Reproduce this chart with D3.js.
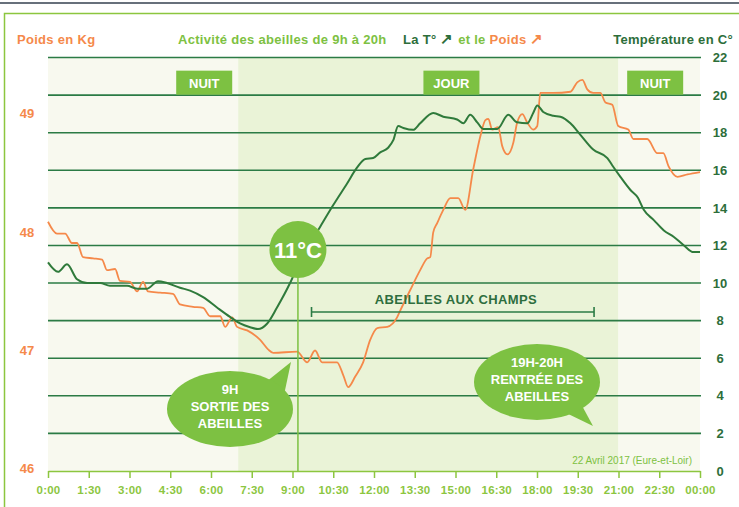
<!DOCTYPE html>
<html>
<head>
<meta charset="utf-8">
<script src="https://cdn.jsdelivr.net/npm/d3@7"></script>
<style>
  body { margin: 0; background: #fff; }
  svg text { font-family: "Liberation Sans", Arial, sans-serif; }
</style>
</head>
<body>
<svg id="chart" width="739" height="507"></svg>
<script>
// hours of the day (0 = midnight)
const tempHours = [0, 0.37, 0.7, 1.07, 1.44, 1.92, 2.28, 2.91, 3.28, 3.65, 4.05, 4.38, 4.86, 5.23, 5.71, 6.22, 6.7, 7.07, 7.44, 7.73, 8.07, 8.43, 8.91, 9.28, 10.02, 10.5, 11.01, 11.38, 11.68, 11.97, 12.23, 12.52, 12.71, 12.89, 13.08, 13.44, 13.7, 14.18, 14.55, 15.06, 15.29, 15.54, 15.8, 16.02, 16.54, 16.94, 17.27, 17.64, 17.86, 18.01, 18.23, 18.6, 18.86, 19.23, 19.59, 20.07, 20.59, 20.8, 21.07, 21.44, 21.71, 21.93, 22.3, 22.67, 23.04, 23.41, 23.76, 24];
const tempValues = [11.1, 10.6, 11.0, 10.2, 10.0, 10.0, 9.85, 9.85, 9.7, 9.7, 10.1, 10.0, 9.75, 9.6, 9.25, 8.7, 8.2, 7.85, 7.65, 7.55, 7.85, 8.7, 10.0, 11.2, 13.0, 14.15, 15.3, 16.15, 16.6, 16.65, 16.95, 17.2, 17.6, 18.35, 18.25, 18.15, 18.5, 19.05, 18.85, 18.7, 18.5, 18.95, 18.55, 18.2, 18.2, 18.95, 18.55, 18.5, 19.05, 19.45, 19.1, 18.9, 18.85, 18.5, 17.9, 17.1, 16.65, 16.2, 15.65, 14.95, 14.55, 13.9, 13.35, 12.8, 12.45, 12.0, 11.65, 11.65];

const weightHours = [0, 0.33, 0.63, 0.88, 1.07, 1.29, 1.66, 1.99, 2.17, 2.47, 2.65, 3.02, 3.28, 3.5, 3.68, 4.13, 4.6, 4.86, 5.34, 5.71, 5.97, 6.34, 6.52, 6.78, 6.96, 7.33, 7.81, 8.1, 8.29, 9.17, 9.54, 9.83, 10.09, 10.64, 10.87, 11.05, 11.31, 11.6, 11.86, 12.12, 12.49, 12.85, 12.97, 13.33, 13.7, 13.96, 14.07, 14.18, 14.33, 14.55, 14.81, 15.1, 15.36, 15.65, 15.91, 16.1, 16.21, 16.35, 16.57, 16.72, 16.91, 17.13, 17.27, 17.46, 17.64, 17.86, 18.01, 18.12, 18.6, 19.23, 19.48, 19.67, 19.85, 20.07, 20.33, 20.52, 20.77, 20.99, 21.36, 21.55, 22.06, 22.43, 22.65, 22.84, 23.17, 23.54, 24];
const weightValues = [48.11, 48.01, 48.01, 47.93, 47.93, 47.81, 47.8, 47.79, 47.7, 47.71, 47.61, 47.6, 47.52, 47.6, 47.52, 47.51, 47.5, 47.41, 47.39, 47.38, 47.31, 47.31, 47.22, 47.3, 47.22, 47.19, 47.11, 47.03, 47.0, 47.01, 46.92, 47.02, 46.92, 46.92, 46.81, 46.71, 46.8, 46.92, 47.11, 47.21, 47.22, 47.3, 47.36, 47.53, 47.7, 47.8, 47.81, 48.02, 48.1, 48.21, 48.31, 48.31, 48.21, 48.55, 48.83, 48.97, 48.98, 48.89, 48.91, 48.75, 48.68, 48.78, 48.95, 49.02, 48.95, 48.89, 48.92, 49.2, 49.2, 49.21, 49.29, 49.31, 49.23, 49.2, 49.2, 49.12, 49.1, 48.92, 48.89, 48.81, 48.81, 48.69, 48.69, 48.58, 48.49, 48.51, 48.53];

const timeTicks = [0, 1.5, 3, 4.5, 6, 7.5, 9, 10.5, 12, 13.5, 15, 16.5, 18, 19.5, 21, 22.5, 24];
const timeLabels = ["0:00", "1:30", "3:00", "4:30", "6:00", "7:30", "9:00", "10:30", "12:00", "13:30", "15:00", "16:30", "18:00", "19:30", "21:00", "22:30", "00:00"];
const tempTicks = [0, 2, 4, 6, 8, 10, 12, 14, 16, 18, 20, 22];
const weightTicks = [46, 47, 48, 49];

const periods = [
    { label: "NUIT", start: 0, end: 7, fill: "#f8f9ef", boxX: 5.75 },
    { label: "JOUR", start: 7, end: 21, fill: "#eaf3d7", boxX: 14.85 },
    { label: "NUIT", start: 21, end: 24, fill: "#f8f9ef", boxX: 22.35 }
];

const exitHour = 9.2;          // 9H sortie des abeilles
const fieldStart = 9.7, fieldEnd = 20.1;
const exitTemp = 11;

const svg = d3.select("#chart");
const m = { left: 48, right: 700, top: 57.5, bottom: 471 };

const x = d3.scaleLinear().domain([0, 24]).range([m.left, m.right]);
const yT = d3.scaleLinear().domain([0, 22]).range([m.bottom, m.top]);
const yW = d3.scaleLinear().domain([46, 49.5]).range([m.bottom, m.top]);

const lightGreen = "#7dc142",
      darkGreen = "#2d6e3a",
      gridGreen = "#2b7b45",
      orange = "#f5894a";

// page decoration
svg.append("line")
    .attr("x1", 0).attr("x2", 739).attr("y1", 3).attr("y2", 3)
    .attr("stroke", "#34404f").attr("stroke-width", 1.5);
svg.append("rect")
    .attr("x", 4.5).attr("y", 13.5).attr("width", 780).attr("height", 540)
    .attr("fill", "none").attr("stroke", "#8cc63f").attr("stroke-width", 1.5);

// day / night backgrounds
svg.selectAll(".period")
    .data(periods)
    .enter()
    .append("rect")
    .attr("class", "period")
    .attr("x", d => x(d.start))
    .attr("width", d => x(d.end) - x(d.start))
    .attr("y", m.top)
    .attr("height", m.bottom - m.top)
    .attr("fill", d => d.fill);

// Gridlines
svg.append("g")
    .selectAll("line")
    .data(tempTicks.filter(d => d > 0))
    .enter()
    .append("line")
    .attr("x1", m.left).attr("x2", m.right + 1)
    .attr("y1", d => yT(d)).attr("y2", d => yT(d))
    .attr("stroke", gridGreen)
    .attr("stroke-width", 1.6);

// period boxes
const boxes = svg.selectAll(".pbox")
    .data(periods)
    .enter()
    .append("g")
    .attr("class", "pbox")
    .attr("transform", d => `translate(${x(d.boxX)},${yT(21.3)})`);
boxes.append("rect")
    .attr("x", -28).attr("y", 0).attr("width", 56).attr("height", 24)
    .attr("fill", lightGreen);
boxes.append("text")
    .attr("x", 0).attr("y", 17)
    .attr("text-anchor", "middle")
    .attr("font-size", "13px")
    .attr("font-weight", "bold")
    .attr("fill", "#fff")
    .text(d => d.label);

// X Axis
const xAxis = svg.append("g")
    .attr("transform", `translate(0,${m.bottom})`)
    .call(d3.axisBottom(x)
        .tickValues(timeTicks)
        .tickFormat((d, i) => timeLabels[i])
        .tickSize(7)
        .tickSizeOuter(0)
        .tickPadding(8));
xAxis.select(".domain").attr("stroke", "#8cc63f").attr("stroke-width", 1.5);
xAxis.selectAll(".tick line").attr("stroke", "#8cc63f").attr("stroke-width", 1.5);
xAxis.selectAll("text")
    .attr("fill", "#8cc63f")
    .style("font-size", "11.5px")
    .style("font-weight", "bold")
    .style("letter-spacing", "0.2px");

// right axis (temperature)
const rAxis = svg.append("g")
    .attr("transform", `translate(${m.right},0)`)
    .call(d3.axisRight(yT).tickValues(tempTicks).tickSize(0).tickPadding(20));
rAxis.select(".domain").remove();
rAxis.selectAll("text")
    .attr("text-anchor", "middle")
    .attr("fill", darkGreen)
    .style("font-size", "13px")
    .style("font-weight", "bold");

// left axis (weight)
const lAxis = svg.append("g")
    .attr("transform", `translate(${m.left},0)`)
    .call(d3.axisLeft(yW).tickValues(weightTicks).tickFormat(d3.format("d")).tickSize(0).tickPadding(21));
lAxis.select(".domain").remove();
lAxis.selectAll("text")
    .attr("text-anchor", "middle")
    .attr("dy", "0.1em")
    .attr("fill", orange)
    .style("font-size", "13px")
    .style("font-weight", "bold");

// header
const header = svg.append("g")
    .attr("font-weight", "bold")
    .attr("font-size", "13px")
    .attr("letter-spacing", "0.3px");
header.append("text").attr("x", 17).attr("y", 44).attr("fill", orange).text("Poids en Kg");
header.append("text").attr("x", 178).attr("y", 44).attr("fill", lightGreen).text("Activité des abeilles de 9h à 20h");
const mid = header.append("text").attr("x", 403).attr("y", 44);
mid.append("tspan").attr("fill", darkGreen).text("La T° ");
mid.append("tspan").attr("fill", darkGreen).attr("font-size", "15px").text("↗ ");
mid.append("tspan").attr("fill", lightGreen).text("et le ");
mid.append("tspan").attr("fill", orange).text("Poids ");
mid.append("tspan").attr("fill", orange).attr("font-size", "15px").text("↗");
header.append("text").attr("x", 733).attr("y", 44).attr("text-anchor", "end").attr("fill", darkGreen).text("Température en C°");

// Lines
const tempData = tempHours.map((h, i) => ({ h: h, v: tempValues[i] }));
const weightData = weightHours.map((h, i) => ({ h: h, v: weightValues[i] }));

svg.append("path")
    .datum(weightData)
    .attr("fill", "none")
    .attr("stroke", orange)
    .attr("stroke-width", 1.8)
    .attr("d", d3.line().x(d => x(d.h)).y(d => yW(d.v)).curve(d3.curveMonotoneX));

svg.append("path")
    .datum(tempData)
    .attr("fill", "none")
    .attr("stroke", "#2f7a3b")
    .attr("stroke-width", 2)
    .attr("d", d3.line().x(d => x(d.h)).y(d => yT(d.v)).curve(d3.curveMonotoneX));

// exit marker: vertical line + 11°C bubble
svg.append("line")
    .attr("x1", x(exitHour)).attr("x2", x(exitHour))
    .attr("y1", 270).attr("y2", m.bottom)
    .attr("stroke", lightGreen).attr("stroke-width", 1.5);
svg.append("circle")
    .attr("cx", x(exitHour)).attr("cy", 249.5).attr("r", 28.5)
    .attr("fill", lightGreen);
svg.append("text")
    .attr("x", x(exitHour)).attr("y", 257.5)
    .attr("text-anchor", "middle")
    .attr("font-size", "22px")
    .attr("font-weight", "bold")
    .attr("fill", "#fff")
    .text(exitTemp + "°C");

// Abeilles aux champs bracket
const by = 312;
const bracket = svg.append("g").attr("stroke", gridGreen).attr("stroke-width", 1.6);
bracket.append("line").attr("x1", x(fieldStart)).attr("x2", x(fieldEnd)).attr("y1", by).attr("y2", by);
bracket.append("line").attr("x1", x(fieldStart)).attr("x2", x(fieldStart)).attr("y1", by - 5).attr("y2", by + 5);
bracket.append("line").attr("x1", x(fieldEnd)).attr("x2", x(fieldEnd)).attr("y1", by - 5).attr("y2", by + 5);
svg.append("text")
    .attr("x", 456).attr("y", 304)
    .attr("text-anchor", "middle")
    .attr("font-size", "13px")
    .attr("font-weight", "bold")
    .attr("letter-spacing", "0.4px")
    .attr("fill", "#2e6e3e")
    .text("ABEILLES AUX CHAMPS");

// Callout bubbles
const callouts = [
    { cx: 230, cy: 409, tail: [[266, 382], [291, 362], [284, 395]], lines: ["9H", "SORTIE DES", "ABEILLES"] },
    { cx: 537, cy: 382, tail: [[560, 410], [593, 426], [580, 402]], lines: ["19H-20H", "RENTRÉE DES", "ABEILLES"] }
];
const co = svg.selectAll(".callout")
    .data(callouts)
    .enter()
    .append("g")
    .attr("class", "callout");
co.append("polygon")
    .attr("points", d => d.tail.map(p => p.join(",")).join(" "))
    .attr("fill", lightGreen);
co.append("ellipse")
    .attr("cx", d => d.cx).attr("cy", d => d.cy)
    .attr("rx", 63).attr("ry", 38)
    .attr("fill", lightGreen);
co.each(function(d) {
    const t = d3.select(this).append("text")
        .attr("text-anchor", "middle")
        .attr("font-size", "13px")
        .attr("font-weight", "bold")
        .attr("fill", "#fff");
    d.lines.forEach((l, i) => {
        t.append("tspan")
            .attr("x", d.cx)
            .attr("y", d.cy - 15 + i * 17)
            .text(l);
    });
});

// source note
svg.append("text")
    .attr("x", 692).attr("y", 464)
    .attr("text-anchor", "end")
    .attr("font-size", "10px")
    .attr("fill", lightGreen)
    .text("22 Avril 2017 (Eure-et-Loir)");
</script>
</body>
</html>
